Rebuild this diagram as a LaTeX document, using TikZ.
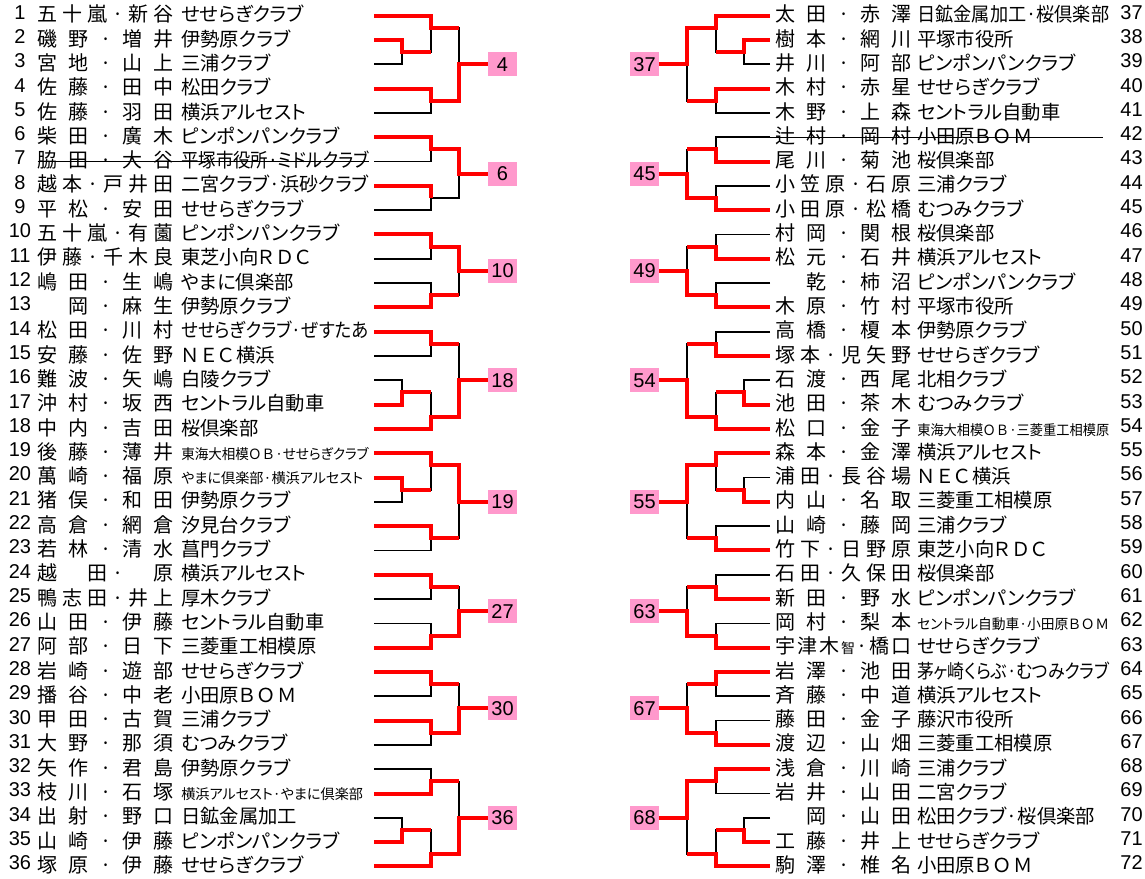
\documentclass[tikz,border=0pt]{standalone}
\usepackage{fontspec}
\setmainfont{Noto Sans CJK JP}[RawFeature={+palt}]
\newfontfamily\numfont{Liberation Sans}
\definecolor{boxpink}{HTML}{FF99CC}
\newlength\namewd
\setlength\namewd{102pt}
\newsavebox\tmbox
\newcommand\zsp{\hbox to 1em{}}
\newcommand\lsp{\kern0.13em}
\newcommand\smtm{\fontsize{10.6pt}{12pt}\selectfont}
\newcommand\smnm{\fontsize{10.5pt}{12pt}\selectfont}
\newcommand\fitteam[2]{\sbox\tmbox{#2}%
  \ifdim\wd\tmbox>#1\relax
    \pgfmathsetmacro\tmratio{#1/\wd\tmbox}\scalebox{\tmratio}[1]{\usebox\tmbox}%
  \else\usebox\tmbox\fi}
\ExplSyntaxOn
\seq_new:N \l_pname_seq
\cs_new_protected:Npn \pname_spread:n #1
  {
    \seq_clear:N \l_pname_seq
    \tl_map_inline:nn {#1} { \seq_put_right:Nn \l_pname_seq {##1} }
    \makebox[\namewd][s]{ \seq_use:Nn \l_pname_seq { \hfill } }
  }
\cs_generate_variant:Nn \pname_spread:n { o }
\NewDocumentCommand \spreadname { m } { \pname_spread:o {#1} }
\ExplSyntaxOff

\begin{document}
\begin{tikzpicture}
          [x=0.75pt,y=-18.23pt,
           every node/.style={inner sep=0pt,font=\fontsize{15pt}{18pt}\selectfont},
           num/.style={anchor=base,font={\numfont\fontsize{15pt}{18pt}\selectfont}},
           player/.style={anchor=base west},
           team/.style={anchor=base west,font=\fontsize{14.5pt}{18pt}\selectfont},
           seed/.style={fill=boxpink,minimum width=21.75pt,minimum height=18pt,font={\numfont\fontsize{15pt}{18pt}\selectfont}},
           lose/.style={line width=1.3pt},
           win/.style={draw=red,line width=3pt},
           strike/.style={line width=0.9pt}]

          \useasboundingbox (0,0.354) rectangle (1145,36.512);

          \foreach \r/\nm/\tm in {1/五十嵐·新谷/せせらぎクラブ, 2/磯野·増井/伊勢原クラブ,
            3/宮地·山上/三浦クラブ, 4/佐藤·田中/松田クラブ, 5/佐藤·羽田/横浜アルセスト,
            6/柴田·廣木/ピンポンパンクラブ, 7/脇田·大谷/平塚市役所·ミドルクラブ,
            8/越本·戸井田/二宮クラブ·浜砂クラブ, 9/平松·安田/せせらぎクラブ,
            10/五十嵐·有薗/ピンポンパンクラブ, 11/伊藤·千木良/東芝小向Ｒ\lsp Ｄ\lsp Ｃ,
            12/嶋田·生嶋/やまに倶楽部, 13/\zsp 岡·麻生/伊勢原クラブ,
            14/松田·川村/せせらぎクラブ·ぜすたあ, 15/安藤·佐野/Ｎ\lsp Ｅ\lsp Ｃ\lsp 横浜,
            16/難波·矢嶋/白陵クラブ, 17/沖村·坂西/セントラル自動車, 18/中内·吉田/桜倶楽部,
            19/後藤·薄井/\smtm 東海大相模Ｏ\lsp Ｂ\lsp ·せせらぎクラブ,
            20/萬崎·福原/\smtm やまに倶楽部·横浜アルセスト,
            21/猪俣·和田/伊勢原クラブ, 22/高倉·網倉/汐見台クラブ, 23/若林·清水/菖門クラブ,
            24/越\zsp 田·\zsp 原/横浜アルセスト, 25/鴨志田·井上/厚木クラブ,
            26/山田·伊藤/セントラル自動車, 27/阿部·日下/三菱重工相模原,
            28/岩崎·遊部/せせらぎクラブ, 29/播谷·中老/小田原Ｂ\lsp Ｏ\lsp Ｍ, 30/甲田·古賀/三浦クラブ,
            31/大野·那須/むつみクラブ, 32/矢作·君島/伊勢原クラブ,
            33/枝川·石塚/\smtm 横浜アルセスト·やまに倶楽部, 34/出射·野口/日鉱金属加工,
            35/山崎·伊藤/ピンポンパンクラブ, 36/塚原·伊藤/せせらぎクラブ}{
            \node[num] (n\r) at (20,\r+0.14) {\r};
            \node[player] (nm\r) at (37.5,\r+0.25) {\spreadname{\nm}};
            \node[team] (tm\r) at (181,\r+0.25) {\fitteam{140.5pt}{\tm}};
            \coordinate (e\r) at (374,\r);
          }

          \foreach \r/\nm/\tm in {37/太田·赤澤/日鉱金属加工·桜倶楽部, 38/樹本·網川/平塚市役所,
            39/井川·阿部/ピンポンパンクラブ, 40/木村·赤星/せせらぎクラブ,
            41/木野·上森/セントラル自動車, 42/辻村·岡村/小田原Ｂ\lsp Ｏ\lsp Ｍ, 43/尾川·菊池/桜倶楽部,
            44/小笠原·石原/三浦クラブ, 45/小田原·松橋/むつみクラブ, 46/村岡·関根/桜倶楽部,
            47/松元·石井/横浜アルセスト, 48/\zsp 乾·柿沼/ピンポンパンクラブ,
            49/木原·竹村/平塚市役所, 50/高橋·榎本/伊勢原クラブ, 51/塚本·児矢野/せせらぎクラブ,
            52/石渡·西尾/北相クラブ, 53/池田·茶木/むつみクラブ,
            54/松口·金子/\smtm 東海大相模Ｏ\lsp Ｂ\lsp ·三菱重工相模原,
            55/森本·金澤/横浜アルセスト, 56/浦田·長谷場/Ｎ\lsp Ｅ\lsp Ｃ\lsp 横浜,
            57/内山·名取/三菱重工相模原, 58/山崎·藤岡/三浦クラブ,
            59/竹下·日野原/東芝小向Ｒ\lsp Ｄ\lsp Ｃ, 60/石田·久保田/桜倶楽部,
            61/新田·野水/ピンポンパンクラブ,
            62/岡村·梨本/\smtm セントラル自動車·小田原Ｂ\lsp Ｏ\lsp Ｍ,
            63/宇津木{{\smnm 智}}·橋口/せせらぎクラブ,
            64/岩澤·池田/茅ヶ崎くらぶ·むつみクラブ, 65/斉藤·中道/横浜アルセスト,
            66/藤田·金子/藤沢市役所, 67/渡辺·山畑/三菱重工相模原, 68/浅倉·川崎/三浦クラブ,
            69/岩井·山田/二宮クラブ, 70/\zsp 岡·山田/松田クラブ·桜倶楽部,
            71/工藤·井上/せせらぎクラブ, 72/駒澤·椎名/小田原Ｂ\lsp Ｏ\lsp Ｍ}{
            \node[num] (n\r) at (1131.5,\r-35.86) {\r};
            \node[player] (nm\r) at (775.5,\r-35.75) {\spreadname{\nm}};
            \node[team] (tm\r) at (917,\r-35.75) {\fitteam{144pt}{\tm}};
            \coordinate (e\r) at (770,\r-36);
          }

          \foreach \s/\y in {4/3, 6/7.5, 10/11.5, 18/16, 19/21, 27/25.5, 30/29.5, 36/34}
            \node[seed] (b\s) at (502.5,\y) {\s};
          \foreach \s/\y in {37/3, 45/7.5, 49/11.5, 54/16, 55/21, 63/25.5, 67/29.5, 68/34}
            \node[seed] (b\s) at (644.5,\y) {\s};

          \foreach \m/\x/\y in {L1s/402/2.5, L1a/431/1.5, L1b/431/4.5, L1f/459/3,
            L2a/431/6.5, L2b/431/8.5, L2f/459/7.5,
            L3a/431/10.5, L3b/431/12.5, L3f/459/11.5,
            L4a/431/14.5, L4s/402/16.5, L4b/431/17.5, L4f/459/16,
            L5s/402/20.5, L5a/431/19.5, L5b/431/22.5, L5f/459/21,
            L6a/431/24.5, L6b/431/26.5, L6f/459/25.5,
            L7a/431/28.5, L7b/431/30.5, L7f/459/29.5,
            L8a/431/32.5, L8s/402/34.5, L8b/431/35.5, L8f/459/34,
            R1s/744/2.5, R1a/716/1.5, R1b/716/4.5, R1f/687/3,
            R2a/716/6.5, R2b/716/8.5, R2f/687/7.5,
            R3a/716/10.5, R3b/716/12.5, R3f/687/11.5,
            R4a/716/14.5, R4s/744/16.5, R4b/716/17.5, R4f/687/16,
            R5s/744/20.5, R5a/716/19.5, R5b/716/22.5, R5f/687/21,
            R6a/716/24.5, R6b/716/26.5, R6f/687/25.5,
            R7a/716/28.5, R7b/716/30.5, R7f/687/29.5,
            R8a/716/32.5, R8s/744/34.5, R8b/716/35.5, R8f/687/34}
            \coordinate (\m) at (\x,\y);

          \foreach \a/\o in {e1/L1a, e2/L1s, e3/L1s, L1s/L1a, e4/L1b, e5/L1b, L1a/L1f, L1b/L1f,
            e6/L2a, e7/L2a, e8/L2b, e9/L2b, L2a/L2f, L2b/L2f,
            e10/L3a, e11/L3a, e12/L3b, e13/L3b, L3a/L3f, L3b/L3f,
            e14/L4a, e15/L4a, e16/L4s, e17/L4s, L4s/L4b, e18/L4b, L4a/L4f, L4b/L4f,
            e19/L5a, e20/L5s, e21/L5s, L5s/L5a, e22/L5b, e23/L5b, L5a/L5f, L5b/L5f,
            e24/L6a, e25/L6a, e26/L6b, e27/L6b, L6a/L6f, L6b/L6f,
            e28/L7a, e29/L7a, e30/L7b, e31/L7b, L7a/L7f, L7b/L7f,
            e32/L8a, e33/L8a, e34/L8s, e35/L8s, L8s/L8b, e36/L8b, L8a/L8f, L8b/L8f,
            e37/R1a, e38/R1s, e39/R1s, R1s/R1a, e40/R1b, e41/R1b, R1a/R1f, R1b/R1f,
            e42/R2a, e43/R2a, e44/R2b, e45/R2b, R2a/R2f, R2b/R2f,
            e46/R3a, e47/R3a, e48/R3b, e49/R3b, R3a/R3f, R3b/R3f,
            e50/R4a, e51/R4a, e52/R4s, e53/R4s, R4s/R4b, e54/R4b, R4a/R4f, R4b/R4f,
            e55/R5a, e56/R5s, e57/R5s, R5s/R5a, e58/R5b, e59/R5b, R5a/R5f, R5b/R5f,
            e60/R6a, e61/R6a, e62/R6b, e63/R6b, R6a/R6f, R6b/R6f,
            e64/R7a, e65/R7a, e66/R7b, e67/R7b, R7a/R7f, R7b/R7f,
            e68/R8a, e69/R8a, e70/R8s, e71/R8s, R8s/R8b, e72/R8b, R8a/R8f, R8b/R8f}
            \draw[lose] (\a) -| (\o);

          \draw[win] (e2) -| (L1s) -- (L1s -| L1a);
          \draw[win] (e1) -| (L1a) -- (L1a -| L1f);
          \draw[win] (e4) -| (L1b) -| (L1f) -- (b4);
          \draw[win] (e6) -| (L2a) -| (L2f) -- (b6);
          \draw[win] (e8) -| (L2b);
          \draw[win] (e10) -| (L3a) -| (L3f) -- (b10);
          \draw[win] (e13) -| (L3b) -- (L3b -| L3f);
          \draw[win] (e14) -| (L4a) -- (L4a -| L4f);
          \draw[win] (e17) -| (L4s) -- (L4s -| L4b);
          \draw[win] (e18) -| (L4b) -| (L4f) -- (b18);
          \draw[win] (e20) -| (L5s) -- (L5s -| L5a);
          \draw[win] (e19) -| (L5a) -| (L5f) -- (b19);
          \draw[win] (e22) -| (L5b) -- (L5b -| L5f);
          \draw[win] (e24) -| (L6a) -- (L6a -| L6f);
          \draw[win] (e27) -| (L6b) -| (L6f) -- (b27);
          \draw[win] (e28) -| (L7a) -- (L7a -| L7f);
          \draw[win] (e30) -| (L7b) -| (L7f) -- (b30);
          \draw[win] (e33) -| (L8a) -- (L8a -| L8f);
          \draw[win] (e35) -| (L8s) -- (L8s -| L8b);
          \draw[win] (e36) -| (L8b) -| (L8f) -- (b36);

          \draw[win] (e38) -| (R1s) -- (R1s -| R1a);
          \draw[win] (e37) -| (R1a) -| (R1f) -- (b37);
          \draw[win] (e40) -| (R1b) -- (R1b -| R1f);
          \draw[win] (e43) -| (R2a) -- (R2a -| R2f);
          \draw[win] (e45) -| (R2b) -| (R2f) -- (b45);
          \draw[win] (e47) -| (R3a) -- (R3a -| R3f);
          \draw[win] (e49) -| (R3b) -| (R3f) -- (b49);
          \draw[win] (e51) -| (R4a) -- (R4a -| R4f);
          \draw[win] (e53) -| (R4s) -- (R4s -| R4b);
          \draw[win] (e54) -| (R4b) -| (R4f) -- (b54);
          \draw[win] (e57) -| (R5s) -- (R5s -| R5a);
          \draw[win] (e55) -| (R5a) -| (R5f) -- (b55);
          \draw[win] (e59) -| (R5b) -- (R5b -| R5f);
          \draw[win] (e61) -| (R6a) -- (R6a -| R6f);
          \draw[win] (e63) -| (R6b) -| (R6f) -- (b63);
          \draw[win] (e64) -| (R7a) -- (R7a -| R7f);
          \draw[win] (e67) -| (R7b) -| (R7f) -- (b67);
          \draw[win] (e68) -| (R8a) -| (R8f) -- (b68);
          \draw[win] (e71) -| (R8s) -- (R8s -| R8b);
          \draw[win] (e72) -| (R8b) -- (R8b -| R8f);

          \coordinate (s42) at (1103,6);
          \draw[strike] (nm7.west |- e7) -- (tm7.east |- e7);
          \draw[strike] (e42) -- (s42);
        \end{tikzpicture}
\end{document}
